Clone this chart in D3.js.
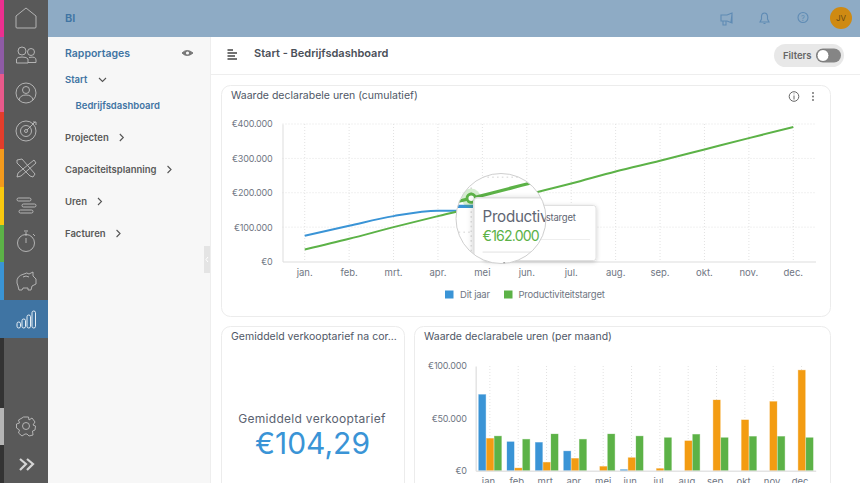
<!DOCTYPE html>
<html>
<meta charset="utf-8">
<style>
 html, body { margin: 0; padding: 0; background: #fff; overflow: hidden; }
 svg { display: block; }
 text { font-family: Inter, "Noto Sans", sans-serif; }
 .tick_text { font-size: 9.5px; fill: #6f7683; }
 .value_text { font-size: 9px; fill: #6f7683; letter-spacing: -0.2px; }
 .card_title { font-size: 10.5px; fill: #4f5766; }
 .menu_text { font-size: 9.5px; font-weight: 600; fill: #5a5a5a; }
 .menu_blue { fill: #3f74a3; }
 .icon { fill: none; stroke: #bdbdbd; stroke-width: 0.9; }
 .top_icon { fill: none; stroke: #5f8bb4; stroke-width: 1.1; }
 .grid { stroke: #e2e2e2; stroke-width: 1; stroke-dasharray: 1 2; }
</style>
<body>
<script src="https://d3js.org/d3.v7.min.js"></script>
<script>

var width = 860
var height = 483

// in euro
var months = ["jan.", "feb.", "mrt.", "apr.", "mei", "jun.", "jul.", "aug.", "sep.", "okt.", "nov.", "dec."]
var cumulativeTicks = [0, 100000, 200000, 300000, 400000]
var cumulativeThisYear = [75000, 104000, 132000, 148000, 147000, 148000]
var cumulativeTarget = [35000, 66000, 100000, 132000, 162000, 195000, 227000, 262000, 293000, 326000, 359000, 391000]

var monthlyTicks = [0, 50000, 100000]
var monthlyThisYear = [72700, 27600, 27000, 18700, 0, 1000, 0, 0, 0, 0, 0, 0]
var monthlyLastYear = [30800, 2500, 8000, 11700, 4000, 12400, 2000, 28500, 67500, 48500, 66000, 96000]
var monthlyTarget = [33000, 30000, 35000, 30000, 35000, 33000, 31500, 34700, 31500, 32700, 32700, 31500]

var legendItems = ["Dit jaar", "Productiviteitstarget"]
var menuItems = ["Projecten", "Capaciteitsplanning", "Uren", "Facturen"]

var stripColors = ["#ec2f8f", "#8e5ba6", "#e9598b", "#e33d2b", "#f39a1c", "#f9c80e", "#5cb247", "#3a94d4", "#3f74a3", "#333333", "#b5b5b5", "#333333"]
var stripStops = [0, 37, 74, 112, 149, 187, 225, 262, 300, 338, 408, 445, 483]

var blue = "#3a94d6"
var orange = "#f39c12"
var green = "#5cb247"

var euro = function (d) {
  return "€" + d3.format(",")(d).replace(/,/g, ".")
}

var svg = d3.select("body")
  .append("svg")
  .attr("width", width)
  .attr("height", height);

var defs = svg.append("defs");

var shadow = defs.append("filter").attr("id", "soft").attr("x", "-20%").attr("y", "-20%").attr("width", "140%").attr("height", "140%");
shadow.append("feDropShadow").attr("dx", 0).attr("dy", 1).attr("stdDeviation", 2).attr("flood-color", "#000").attr("flood-opacity", 0.2);

defs.append("clipPath").attr("id", "lensClip")
  .append("circle").attr("cx", 501).attr("cy", 218.5).attr("r", 45);

// ---- page frame
svg.append("rect").attr("x", 48).attr("y", 0).attr("width", 812).attr("height", 37).attr("fill", "#8eabc5");
svg.append("rect").attr("x", 48).attr("y", 37).attr("width", 162).attr("height", 446).attr("fill", "#f7f7f7");
svg.append("line").attr("x1", 210.5).attr("x2", 210.5).attr("y1", 37).attr("y2", 483).attr("stroke", "#eeeeee");
svg.append("line").attr("x1", 211).attr("x2", 860).attr("y1", 74.5).attr("y2", 74.5).attr("stroke", "#eeeeee");

svg.append("rect").attr("x", 0).attr("y", 0).attr("width", 48).attr("height", 483).attr("fill", "#595959");
stripColors.forEach(function (c, i) {
  svg.append("rect").attr("x", 0).attr("y", stripStops[i]).attr("width", i == 8 ? 48 : 4)
    .attr("height", stripStops[i + 1] - stripStops[i]).attr("fill", c);
});

// ---- sidebar icons
var icons = svg.append("g").attr("class", "icon");
icons.append("path").attr("d", "M16 27V16L26 8L36 16V27Q36 28 35 28H17Q16 28 16 27Z");
icons.append("circle").attr("cx", 22).attr("cy", 51).attr("r", 4);
icons.append("circle").attr("cx", 31).attr("cy", 52).attr("r", 3.5);
icons.append("path").attr("d", "M16.500 63V59Q17 57 22 57Q27 57 28 59V63Z M29 57.500Q36 56 36 60V62.500H28");
icons.append("circle").attr("cx", 26).attr("cy", 93).attr("r", 10);
icons.append("circle").attr("cx", 26).attr("cy", 90).attr("r", 3.5);
icons.append("path").attr("d", "M19 100Q20 95 26 95Q32 95 33 100");
icons.append("circle").attr("cx", 26).attr("cy", 131).attr("r", 10);
icons.append("circle").attr("cx", 26).attr("cy", 131).attr("r", 5.5);
icons.append("circle").attr("cx", 26).attr("cy", 131).attr("r", 1.5);
icons.append("path").attr("d", "M27 130L35 122M33 122H36V125");
icons.append("path").attr("d", "M17 160L22 159L35 174L33 177L30 176L17 163Z M34 160L36 163L21 176L17 177L18 173Z");
icons.append("rect").attr("x", 17).attr("y", 198).attr("width", 14).attr("height", 3).attr("rx", 1.5);
icons.append("rect").attr("x", 22).attr("y", 204).attr("width", 14).attr("height", 3).attr("rx", 1.5);
icons.append("rect").attr("x", 19).attr("y", 210).attr("width", 14).attr("height", 3).attr("rx", 1.5);
icons.append("circle").attr("cx", 26).attr("cy", 243).attr("r", 8.5);
icons.append("path").attr("d", "M26 232V236M24 231H28M26 243V238M33 234L35 236");
icons.append("path").attr("d", "M17 283Q16 276 24 274Q27 272 29 274L33 272V276L36 279V284L32 286L31 290H28V288H23L22 290H19L18 286Z");
icons.append("path").attr("d", "M23 277Q26 275 29 277");
icons.append("circle").attr("cx", 26).attr("cy", 426).attr("r", 3.5);
icons.append("path").attr("d", "M23.500 417H28.500L29 420L32 418L35 422L33 425L35.500 426L35 430L32.500 431L33 435L29 436L27 434H25L22 436L18.500 433L19.500 430L16.500 428V424L19.500 423L18.500 420L22 418Z");
svg.append("path").attr("d", "M20 459L26 464L20 470M27 459L33 464L27 470").attr("fill", "none").attr("stroke", "#d5d5d5").attr("stroke-width", 2.2);

// active bars icon
[[17, 322, 3.5, 6], [22, 319, 3.5, 9], [27, 315, 3.5, 13], [32, 311, 3.5, 17]].forEach(function (b) {
  svg.append("rect").attr("x", b[0]).attr("y", b[1]).attr("width", b[2]).attr("height", b[3]).attr("rx", 1.7)
    .attr("fill", "none").attr("stroke", "#e6eef5").attr("stroke-width", 1);
});

// ---- top bar
svg.append("text").attr("x", 65).attr("y", 21.500).text("BI").style("font-size", "11px").style("font-weight", 600).style("fill", "#3f74a3");
var tops = svg.append("g").attr("class", "top_icon");
tops.append("path").attr("d", "M721 15H727L732 13V23L727 21H721Z M723 21V25H726V21 M732 14L731 22");
tops.append("path").attr("d", "M760 22H769L767.500 19V16Q767 13 764.500 13Q762 13 761.500 16V19Z M763.500 23.500H765.500");
tops.append("circle").attr("cx", 803).attr("cy", 17.500).attr("r", 5);
svg.append("text").attr("x", 803).attr("y", 20.500).attr("text-anchor", "middle").text("?").style("font-size", "7.5px").style("fill", "#5f8bb4");
svg.append("circle").attr("cx", 841).attr("cy", 18).attr("r", 11).attr("fill", "#cf8a12");
svg.append("text").attr("x", 841).attr("y", 21).attr("text-anchor", "middle").text("JV").style("font-size", "8px").style("fill", "#6a4a12");

// ---- menu
svg.append("text").attr("class", "menu_text menu_blue").attr("x", 65).attr("y", 57).text("Rapportages").style("font-size", "10.5px");
svg.append("path").attr("d", "M182 53Q187 48 193 53Q187 58 182 53Z").attr("fill", "#777").attr("stroke", "#777");
svg.append("circle").attr("cx", 187.500).attr("cy", 53).attr("r", 1.6).attr("fill", "#f7f7f7");
svg.append("text").attr("class", "menu_text menu_blue").attr("x", 65).attr("y", 83).text("Start");
svg.append("path").attr("d", "M99 78L102.500 81.500L106 78").attr("fill", "none").attr("stroke", "#555").attr("stroke-width", 1.1);
svg.append("text").attr("class", "menu_text menu_blue").attr("x", 75.500).attr("y", 109).text("Bedrijfsdashboard");

var menuY = d3.scalePoint().domain(menuItems).range([141, 237]);
menuItems.forEach(function (m) {
  var t = svg.append("text").attr("class", "menu_text").attr("x", 65).attr("y", menuY(m)).text(m);
  var x = 65 + t.node().getComputedTextLength() + 11;
  svg.append("path").attr("d", "M" + x + " " + (menuY(m) - 7) + "l3.5 3.5l-3.500 3.500").attr("fill", "none").attr("stroke", "#555").attr("stroke-width", 1.1);
});

svg.append("rect").attr("x", 204).attr("y", 246).attr("width", 6).attr("height", 27).attr("fill", "#e4e4e4");
svg.append("path").attr("d", "M208 257l-2 2.500l2 2.500").attr("fill", "none").attr("stroke", "#fff");

// ---- header row
svg.append("path").attr("d", "M227.500 50H233M227.500 53H237M227.500 56H235M227.500 59H237").attr("stroke", "#444").attr("stroke-width", 1.3).attr("fill", "none");
svg.append("text").attr("x", 254).attr("y", 57).text("Start - Bedrijfsdashboard").style("font-size", "11px").style("font-weight", 600).style("fill", "#4a4f58");
svg.append("rect").attr("x", 774).attr("y", 44).attr("width", 70).attr("height", 23).attr("rx", 11.500).attr("fill", "#e8e8e8");
svg.append("text").attr("x", 783).attr("y", 59).text("Filters").style("font-size", "9.5px").style("font-weight", 600).style("fill", "#666");
svg.append("rect").attr("x", 816).attr("y", 48.500).attr("width", 25).attr("height", 14).attr("rx", 7).attr("fill", "#858585");
svg.append("circle").attr("cx", 823).attr("cy", 55.500).attr("r", 6).attr("fill", "#fff").attr("stroke", "#777");

// ---- cards
function card(x, y, w, h, title) {
  svg.append("rect").attr("x", x + 0.5).attr("y", y + 0.5).attr("width", w).attr("height", h).attr("rx", 9)
    .attr("fill", "#fff").attr("stroke", "#ececec");
  svg.append("text").attr("class", "card_title").attr("x", x + 10).attr("y", y + 14).text(title);
}
card(221, 85, 609, 231, "Waarde declarabele uren (cumulatief)");
card(221, 326, 183, 180, "Gemiddeld verkooptarief na cor...");
card(414, 326, 416, 180, "Waarde declarabele uren (per maand)");

svg.append("circle").attr("cx", 794).attr("cy", 96.500).attr("r", 4.800).attr("fill", "none").attr("stroke", "#666");
svg.append("path").attr("d", "M794 95.500V99.500M794 93.500V94.300").attr("stroke", "#666");
[93, 96.500, 100].forEach(function (y) {
  svg.append("circle").attr("cx", 813).attr("cy", y).attr("r", 0.9).attr("fill", "#666");
});

// ---- big number
svg.append("text").attr("x", 312).attr("y", 423).attr("text-anchor", "middle").text("Gemiddeld verkooptarief")
  .style("font-size", "12px").style("fill", "#5a6270").style("letter-spacing", "0.3px");
svg.append("text").attr("x", 312.500).attr("y", 454).attr("text-anchor", "middle").text("€104,29")
  .style("font-size", "30px").style("fill", blue);

// ---- cumulative line chart
var x = d3.scaleBand().domain(months).range([282.5, 815.5]);
var y = d3.scaleLinear().domain([0, 400000]).range([261.5, 124]);

var plot = svg.append("g").attr("id", "plot");

plot.selectAll(".hgrid").data(cumulativeTicks.slice(1)).enter().append("line")
  .attr("class", "grid")
  .attr("x1", x.range()[0]).attr("x2", x.range()[1])
  .attr("y1", function (d) { return y(d); }).attr("y2", function (d) { return y(d); });
plot.selectAll(".vgrid").data(months).enter().append("line")
  .attr("class", "grid")
  .attr("x1", function (d) { return x(d) + x.bandwidth() / 2; }).attr("x2", function (d) { return x(d) + x.bandwidth() / 2; })
  .attr("y1", y.range()[1]).attr("y2", y.range()[0]);

var xAxis = plot.append("g").attr("transform", "translate(0," + y.range()[0] + ")").call(d3.axisBottom(x).tickSize(0).tickPadding(8));
var yAxis = plot.append("g").attr("transform", "translate(" + x.range()[0] + ",0)")
  .call(d3.axisLeft(y).tickValues(cumulativeTicks).tickFormat(euro).tickSize(0).tickPadding(10));
xAxis.selectAll("text").attr("class", "tick_text");
yAxis.selectAll("text").attr("class", "value_text");
[xAxis, yAxis].forEach(function (a) {
  a.selectAll("text").style("font-family", null);
  a.select(".domain").attr("stroke", "#dddddd");
});

var line = d3.line()
  .x(function (d, i) { return x(months[i]) + x.bandwidth() / 2; })
  .y(function (d) { return y(d); })
  .curve(d3.curveMonotoneX);

plot.append("path").datum(cumulativeThisYear).attr("d", line).attr("fill", "none").attr("stroke", blue).attr("stroke-width", 2);
plot.append("path").datum(cumulativeTarget).attr("d", line).attr("fill", "none").attr("stroke", green).attr("stroke-width", 2);

// hovered point
var hoverX = x(months[4]) + x.bandwidth() / 2;
var hoverY = y(cumulativeTarget[4]);
plot.append("circle").attr("cx", hoverX).attr("cy", hoverY).attr("r", 6).attr("fill", green).attr("opacity", 0.25);
plot.append("circle").attr("cx", hoverX).attr("cy", hoverY).attr("r", 2.6).attr("fill", "#fff").attr("stroke", green).attr("stroke-width", 1.8);

// tooltip
plot.append("rect").attr("x", 484).attr("y", 205.500).attr("width", 112).attr("height", 55).attr("rx", 2.5)
  .attr("fill", "#fff").attr("stroke", "#e0e0e0").attr("filter", "url(#soft)");
plot.append("text").attr("x", 489.500).attr("y", 221).text(legendItems[1]).style("font-size", "9.5px").style("letter-spacing", "-0.2px").style("fill", "#5f6673");
plot.append("text").attr("x", 489.500).attr("y", 232.500).text(euro(cumulativeTarget[4])).style("font-size", "8.8px").style("letter-spacing", "-0.5px").style("fill", green);
plot.append("line").attr("x1", 489.500).attr("x2", 590).attr("y1", 239.500).attr("y2", 239.500).attr("stroke", "#eeeeee");
plot.append("circle").attr("cx", 503).attr("cy", 246.500).attr("r", 0.7).attr("fill", "#555");

// magnifier on top of the chart
svg.append("circle").attr("cx", 501).attr("cy", 218.500).attr("r", 45).attr("fill", "#fff");
svg.append("g").attr("clip-path", "url(#lensClip)")
  .append("use").attr("href", "#plot")
  .attr("transform", "translate(501,218.500) scale(1.6) translate(-501,-218.500)");
svg.append("circle").attr("cx", 501).attr("cy", 218.500).attr("r", 45).attr("fill", "none").attr("stroke", "#cfcfcf");

// legend
[[445, 460, blue], [504, 518.500, green]].forEach(function (l, i) {
  svg.append("rect").attr("x", l[0]).attr("y", 290.500).attr("width", 8.500).attr("height", 8).attr("fill", l[2]);
  svg.append("text").attr("class", "tick_text").attr("x", l[1]).attr("y", 298).text(legendItems[i]).style("letter-spacing", "-0.2px");
});

// ---- monthly bars
var x2 = d3.scaleBand().domain(months).range([475.7, 815.7]);
var y2 = d3.scaleLinear().domain([0, 100000]).range([470.7, 366]);
var slot = d3.scaleBand().domain([0, 1, 2]).range([3, x2.bandwidth() - 2.6]).paddingInner(0.1);

x2.domain().forEach(function (m) {
  svg.append("line").attr("class", "grid")
    .attr("x1", x2(m) + x2.bandwidth() / 2).attr("x2", x2(m) + x2.bandwidth() / 2)
    .attr("y1", y2.range()[1]).attr("y2", y2.range()[0]);
});

[[monthlyThisYear, blue], [monthlyLastYear, orange], [monthlyTarget, green]].forEach(function (s, k) {
  svg.selectAll(".bar" + k).data(s[0]).enter().append("rect")
    .attr("x", function (d, i) { return x2(months[i]) + slot(k); })
    .attr("y", function (d) { return y2(d); })
    .attr("width", slot.bandwidth())
    .attr("height", function (d) { return y2(0) - y2(d); })
    .attr("fill", s[1])
    .attr("stroke", s[1]).attr("stroke-opacity", 0.4).attr("stroke-width", 0.8);
});

var xAxis2 = svg.append("g").attr("transform", "translate(0," + y2.range()[0] + ")").call(d3.axisBottom(x2).tickSize(0).tickPadding(8));
var yAxis2 = svg.append("g").attr("transform", "translate(" + x2.range()[0] + ",0)")
  .call(d3.axisLeft(y2).tickValues(monthlyTicks).tickFormat(euro).tickSize(0).tickPadding(9));
xAxis2.selectAll("text").attr("class", "tick_text");
yAxis2.selectAll("text").attr("class", "value_text");
[xAxis2, yAxis2].forEach(function (a) {
  a.selectAll("text").style("font-family", null);
  a.select(".domain").attr("stroke", "#e4e4e4").attr("stroke-width", 1.5);
});

</script>
</body>
</html>
